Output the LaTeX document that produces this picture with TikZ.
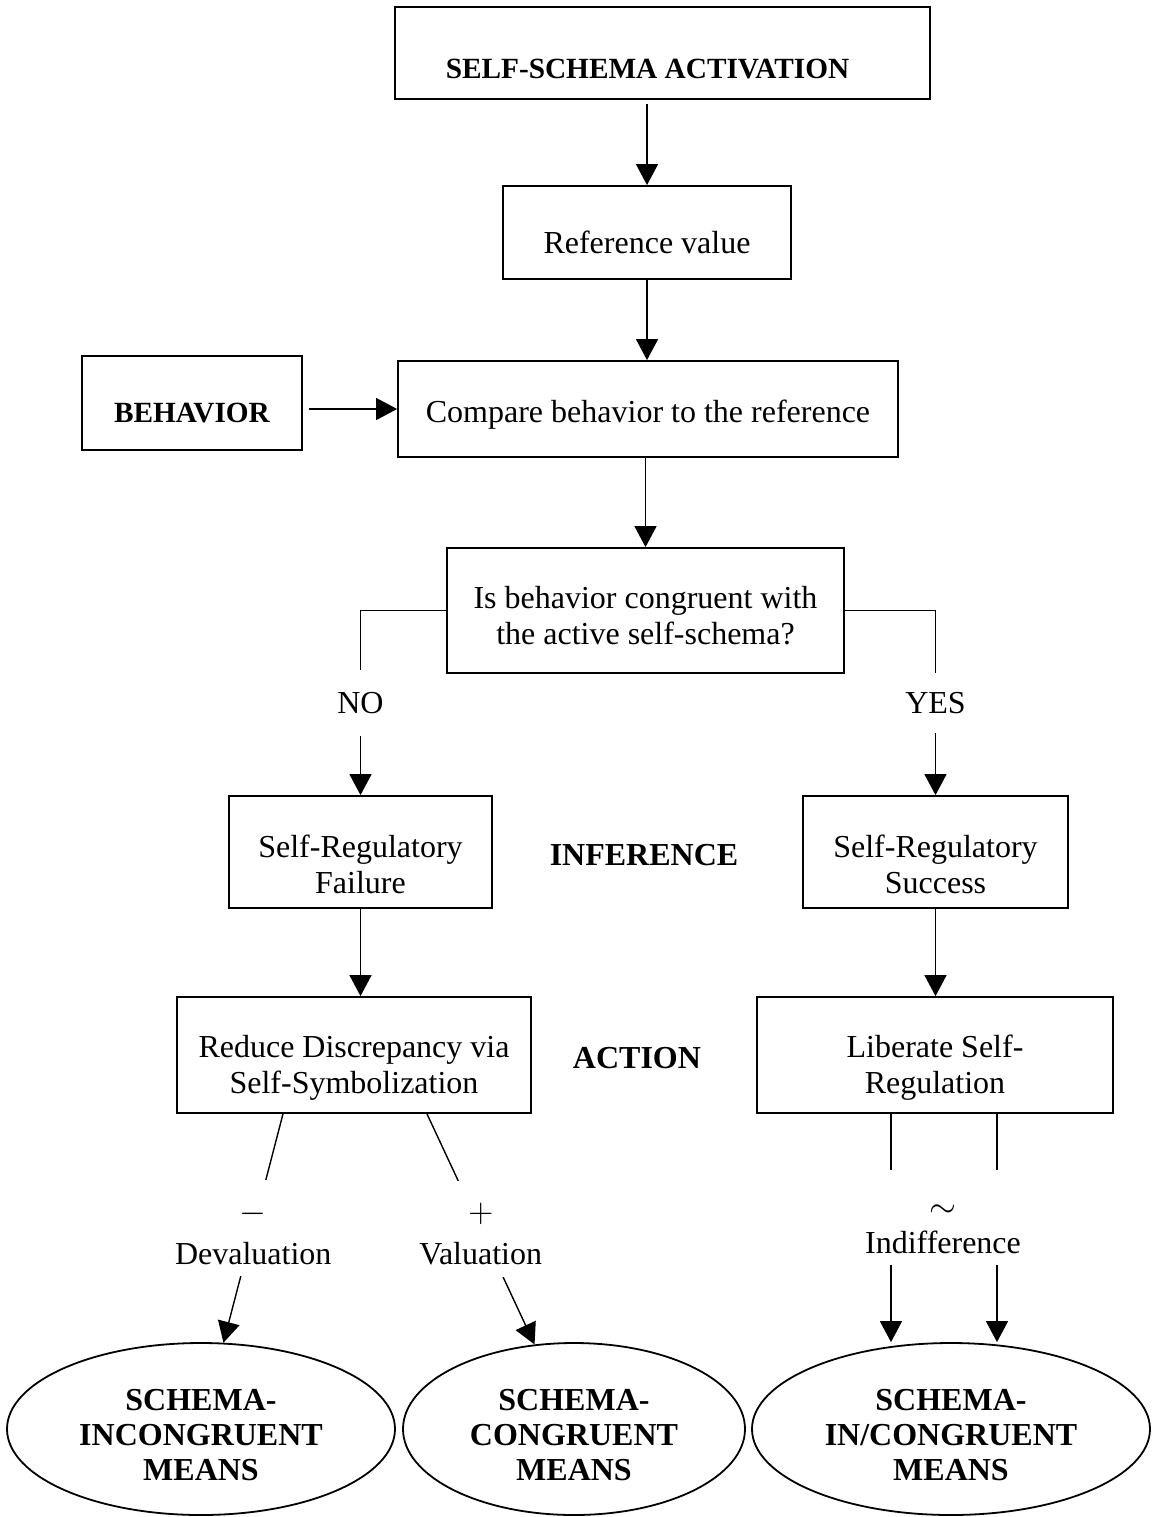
\documentclass[tikz,border=0pt]{standalone}
\usepackage{fontspec}
\setmainfont{Liberation Serif}
\usetikzlibrary{arrows.meta,shapes.geometric}

\newcommand{\topgap}[1]{\rule{0pt}{#1}}

\tikzset{
  box/.style={draw, line width=0.9pt, inner sep=0pt, align=center, font=\fontsize{16pt}{18pt}\selectfont},
  headbox/.style={box, font=\fontsize{14.65pt}{17pt}\selectfont\bfseries},
  means/.style={draw, ellipse, line width=0.9pt, inner sep=0pt, align=center, minimum height=86pt, font=\fontsize{16pt}{17.5pt}\selectfont\bfseries},
  stage/.style={font=\fontsize{16pt}{18pt}\selectfont\bfseries},
  gap/.style={fill=white, inner xsep=2pt, align=center, font=\fontsize{16pt}{18pt}\selectfont},
  link/.style={line width=0.7pt, -{Triangle[length=10.5pt,width=11pt]}}
}

\begin{document}
\begin{tikzpicture}[x=0.5pt, y=-0.5pt]
\useasboundingbox (0,0) rectangle (1153,1517);

% boxes
\node[headbox, minimum width=267.5pt, minimum height=46pt]	(activ)	at (662.5,53)		{\topgap{25.7pt}SELF-SCHEMA ACTIVATION\hspace{15pt}};
\node[box, minimum width=144pt, minimum height=46.5pt]		(ref)		at (647,232.5)		{\topgap{21.2pt}Reference value};
\node[box, minimum width=250pt, minimum height=48pt]		(cmp)		at (648,409)		{\topgap{17.2pt}Compare behavior to the reference};
\node[headbox, minimum width=110pt, minimum height=47pt]	(beh)		at (192,403)		{\topgap{19.7pt}BEHAVIOR};
\node[box, minimum width=198.5pt, minimum height=62.5pt]	(cong)	at (645.5,610.5)	{\topgap{16.2pt}Is behavior congruent with\\the active self-schema?};
\node[box, minimum width=131.5pt, minimum height=56pt]		(fail)	at (360.5,852)		{\topgap{23.2pt}Self-Regulatory\\Failure};
\node[box, minimum width=132.5pt, minimum height=56pt]		(succ)	at (935.5,852)		{\topgap{23.2pt}Self-Regulatory\\Success};
\node[stage]											(infer)	at (644,855)		{INFERENCE};
\node[box, minimum width=177pt, minimum height=58pt]		(reduce)	at (354,1055)		{\topgap{24.2pt}Reduce Discrepancy via\\Self-Symbolization};
\node[box, minimum width=178pt, minimum height=58pt]		(free)	at (935,1055)		{\topgap{24.2pt}Liberate Self-\\Regulation};
\node[stage]											(actn)	at (637,1058)		{ACTION};
\node[means, minimum width=194pt]						(incon)	at (201,1429)		{\topgap{16.6pt}SCHEMA-\\INCONGRUENT\\MEANS};
\node[means, minimum width=171pt]						(congr)	at (574,1429)		{\topgap{16.6pt}SCHEMA-\\CONGRUENT\\MEANS};
\node[means, minimum width=199pt]						(both)	at (951,1429)		{\topgap{16.6pt}SCHEMA-\\IN/CONGRUENT\\MEANS};

% connectors
\draw[link, shorten <=2pt]	(ref.north |- activ.south) -- (ref.north);
\draw[link]				(ref.south) -- (ref.south |- cmp.north);
\draw[link, shorten <=3pt]	(beh.east |- cmp.west) -- (cmp.west);
\draw[link]				(cmp.south -| cong.north) -- (cong.north);
\draw[link]				(cong.west) -| node[gap, pos=0.75, minimum height=33pt] {NO} (fail.north);
\draw[link]				(cong.east) -| node[gap, pos=0.75, minimum height=30pt] {YES} (succ.north);
\draw[link]				(fail.south) -- (fail.south |- reduce.north);
\draw[link]				(succ.south) -- (succ.south |- free.north);
\draw[link]				([xshift=-35.5pt]reduce.south) -- node[gap, minimum height=48pt] {\topgap{15pt}$-$\\[3pt]Devaluation} (incon);
\draw[link]				([xshift=36.5pt]reduce.south) -- node[gap, minimum height=48pt] {\topgap{15pt}$+$\\[3pt]Valuation} (congr);
\draw[link]				([xshift=-22pt]free.south) -- ([xshift=-22pt]free.south |- both.north);
\draw[link]				([xshift=31pt]free.south) -- ([xshift=31pt]free.south |- both.north);
\node[gap, minimum height=47.5pt] (indiff) at (943,1217) {\topgap{18.5pt}$\sim$\\Indifference};
\end{tikzpicture}
\end{document}
